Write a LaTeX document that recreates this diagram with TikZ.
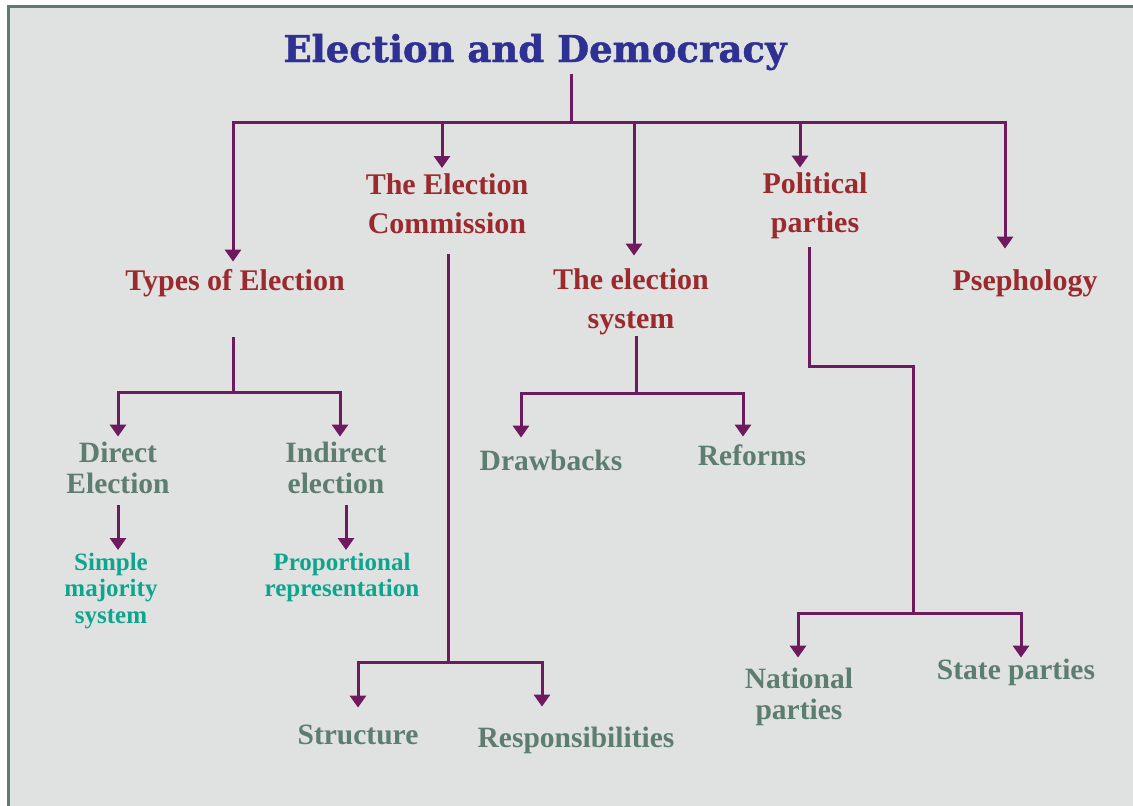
\documentclass[tikz,border=0pt]{standalone}
\usepackage{fontspec}
\setmainfont{Liberation Serif}
\newfontfamily\titlefont{DejaVu Serif}[BoldFeatures={FakeBold=1.2}]
\usetikzlibrary{arrows.meta}

\definecolor{paper}{HTML}{E0E2E1}
\definecolor{frame}{HTML}{5D7C70}
\definecolor{titleblue}{HTML}{2E3192}
\definecolor{topicred}{HTML}{9B2A2E}
\definecolor{subgreen}{HTML}{5D7D70}
\definecolor{leafteal}{HTML}{0EA58F}
\definecolor{linkpurple}{HTML}{6E1A5E}

\begin{document}
\begin{tikzpicture}[x=1pt,y=-1pt]
\tikzstyle{head} = [anchor=north,inner sep=0pt,outer sep=0pt,align=center,text=topicred,font=\bfseries\fontsize{30}{39}\selectfont]
\tikzstyle{sub} = [anchor=north,inner sep=0pt,outer sep=0pt,align=center,text=subgreen,font=\bfseries\fontsize{29.5}{31}\selectfont]
\tikzstyle{leaf} = [anchor=north,inner sep=0pt,outer sep=0pt,align=center,text=leafteal,font=\bfseries\fontsize{25}{26.5}\selectfont]
\tikzstyle{trunk} = [draw=linkpurple,line width=3pt]
\tikzstyle{branch} = [trunk,-{Triangle[width=16pt,length=12pt]}]

\useasboundingbox (0,0) rectangle (1133,806);
\fill[paper] (7,5) rectangle (1133,806);
\fill[frame] (7,5) rectangle (1133,8);
\fill[frame] (7,5) rectangle (10,806);

\node[anchor=base,inner sep=0pt,text=titleblue,font=\titlefont\bfseries\fontsize{37}{40}\selectfont] (title) at (535,62) {Election and Democracy};

% first row
\node[head] (types) at (235,269.6) {Types of Election};
\node[head] (commission) at (447,174) {The Election\\Commission};
\node[head] (system) at (631,268.6) {The election\\system};
\node[head] (political) at (815,172.6) {Political\\parties};
\node[head] (psephology) at (1025,269.6) {Psephology};

% second row
\node[sub] (direct) at (118,441.6) {Direct\\Election};
\node[sub] (indirect) at (336,441.6) {Indirect\\election};
\node[sub] (drawbacks) at (551,449.6) {Drawbacks};
\node[sub] (reforms) at (752,444.6) {Reforms};
\node[sub] (structure) at (358,724.6) {Structure};
\node[sub] (responsibilities) at (576,726.6) {Responsibilities};
\node[sub] (national) at (799,667.6) {National\\parties};
\node[sub] (state) at (1016,658.6) {State parties};

\node[leaf] (simple) at (111,553) {Simple\\majority\\system};
\node[leaf] (proportional) at (342,553) {Proportional\\representation};

\coordinate (hub) at (571,122);
\coordinate (typesjoin) at (233,392);
\coordinate (commjoin) at (448,662);
\coordinate (sysjoin) at (636,393);
\coordinate (partybend) at (913,366);
\coordinate (partyjoin) at (913,613);

\draw[trunk,shorten <=4pt] (title.south -| hub) -- (hub);
\draw[branch,shorten >=8pt] (hub) -| ([xshift=-2pt]types.north);
\draw[branch,shorten >=6pt] (hub) -| ([xshift=-5pt]commission.north);
\draw[branch,shorten >=13pt] (hub) -| ([xshift=3pt]system.north);
\draw[branch,shorten >=5pt] (hub) -| ([xshift=-15pt]political.north);
\draw[branch,shorten >=21pt] (hub) -| ([xshift=-20pt]psephology.north);

% types of election
\draw[trunk,shorten <=40pt] ([xshift=-2pt]types.south) -- (typesjoin);
\draw[branch,shorten >=5pt] (typesjoin) -| (direct.north);
\draw[branch,shorten >=5pt] (typesjoin) -| ([xshift=4pt]indirect.north);
\draw[branch,shorten <=12pt,shorten >=3pt] (direct.south) -- (direct.south |- simple.north);
\draw[branch,shorten <=12pt,shorten >=3pt] ([xshift=10pt]indirect.south) -- ([xshift=10pt]indirect.south |- proportional.north);

% commission
\draw[trunk,shorten <=20pt] ([xshift=1pt]commission.south) -- (commjoin);
\draw[branch,shorten >=17pt] (commjoin) -| (structure.north);
\draw[branch,shorten >=20pt] (commjoin) -| ([xshift=-34pt]responsibilities.north);

% election system
\draw[trunk,shorten <=1pt] ([xshift=5pt]system.south) -- (sysjoin);
\draw[branch,shorten >=12pt] (sysjoin) -| ([xshift=-30pt]drawbacks.north);
\draw[branch,shorten >=8pt] (sysjoin) -| ([xshift=-9pt]reforms.north);

% parties
\draw[trunk,shorten <=8pt] ([xshift=-6pt]political.south) |- (partybend) -- (partyjoin);
\draw[branch,shorten >=10pt] (partyjoin) -| ([xshift=-1pt]national.north);
\draw[branch,shorten >=1pt] (partyjoin) -| ([xshift=5pt]state.north);

\end{tikzpicture}
\end{document}
